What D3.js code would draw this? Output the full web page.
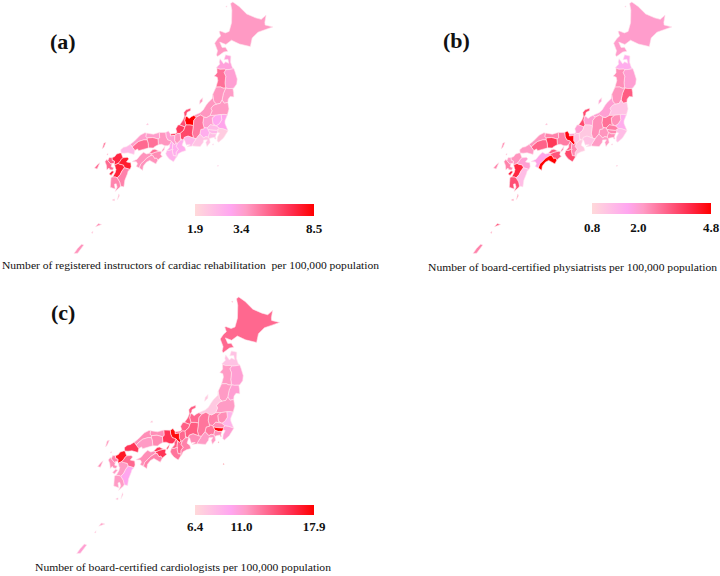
<!DOCTYPE html>
<html>
<head>
<meta charset="utf-8">
<script src="https://cdn.jsdelivr.net/npm/d3@7"></script>
<style>
  body { margin: 0; background: #fff; }
  text { font-family: "Liberation Serif", serif; fill: #111; }
</style>
</head>
<body>
<div id="chart"></div>
<script>
// prefecture names, same order as the value arrays
var prefNames = ["Hokkaido","Aomori","Iwate","Miyagi","Akita","Yamagata","Fukushima","Ibaraki","Tochigi","Gunma","Saitama","Chiba","Tokyo","Kanagawa","Niigata","Toyama","Ishikawa","Fukui","Yamanashi","Nagano","Gifu","Shizuoka","Aichi","Mie","Shiga","Kyoto","Osaka","Hyogo","Nara","Wakayama","Tottori","Shimane","Okayama","Hiroshima","Yamaguchi","Tokushima","Kagawa","Ehime","Kochi","Fukuoka","Saga","Nagasaki","Kumamoto","Oita","Miyazaki","Kagoshima","Okinawa"];

var instructors = [3.8,3.3,3.4,3.7,5.0,3.9,3.8,3.1,3.0,3.5,2.6,2.2,2.7,2.5,3.9,8.5,6.0,6.6,2.9,4.8,6.2,2.4,2.7,2.9,3.9,3.4,3.0,3.9,2.9,2.8,3.6,3.6,5.0,5.2,2.6,4.2,5.0,4.0,4.0,7.2,5.6,5.2,7.4,7.6,4.5,4.4,4.0];
var physiatrists = [2.1,1.6,2.0,3.2,2.4,2.3,1.2,1.6,2.4,2.9,2.7,1.3,2.5,2.4,2.0,2.0,3.5,2.0,2.3,2.4,1.1,2.2,1.2,1.1,1.2,4.7,3.0,2.7,2.5,3.5,2.6,2.3,3.8,3.1,2.2,3.3,3.2,1.8,4.8,2.3,2.2,2.6,4.1,2.0,1.3,3.4,2.6];
var cardiologists = [13.5,8.0,11.0,11.0,11.5,11.5,11.5,9.0,12.0,12.5,12.0,11.0,17.9,12.0,7.5,13.5,14.0,13.8,13.0,13.0,14.0,11.5,12.0,12.5,13.5,17.5,14.0,15.5,13.5,13.0,12.0,12.0,12.2,11.5,15.5,15.5,15.5,12.0,12.5,17.0,12.5,12.0,11.5,13.5,10.0,11.5,11.0];

// legend ticks: lowest, middle, highest
var ticksA = [1.9, 3.4, 8.5];
var ticksB = [0.8, 2.0, 4.8];
var ticksC = [6.4, 11.0, 17.9];

// colour ramp of the legend
var rampStops = [0, 0.3, 0.43, 0.62, 0.82, 1];
var rampColors = ["#ffd9da", "#ffa6f0", "#ff9cc6", "#ff658c", "#ff2c4c", "#ff0000"];

// outlines as lon,lat (same order as prefNames, islands as extra rings)
var prefOutlines = [
  ["140.1,41.42 140.75,41.75 141.18,41.8 140.95,42.1 140.6,42.1 140.38,42.52 141,42.32 141.6,42.62 142.4,42.3 143.5,42.05 143.75,42.7 144.4,43.1 145.2,43.25 146,43.4 145.2,43.6 145.2,43.8 145.4,44.34 144.85,44.05 144.27,44.2 143.35,44.55 142.6,45.15 141.95,45.52 141.7,45.4 141.8,44.9 141.7,43.95 141.4,43.3 141,43.2 140.5,43.35 140.35,43.33 140.5,42.98 140.2,42.8 139.85,42.45 140.12,41.87 140,41.55", "141.17,45.17 141.3,45.15 141.27,45.25"],
  ["139.95,40.6 140.3,40.85 140.25,41 140.35,41.25 140.7,40.85 140.9,41 141.2,40.88 141.15,41.18 140.75,41.17 140.93,41.53 141.46,41.42 141.4,40.95 141.55,40.55 141.7,40.45 141.2,40.4 140.9,40.4 140.75,40.45 140.3,40.45 140,40.55"],
  ["141.7,40.45 141.8,40.2 141.98,39.65 141.9,39.27 141.6,38.98 141.5,38.95 141.1,38.95 140.8,39 140.75,39.4 140.85,39.9 140.7,40.2 140.9,40.4 141.2,40.4"],
  ["141.5,38.95 141.55,38.65 141.55,38.3 141.2,38.35 141,38.15 140.95,37.9 140.6,37.85 140.4,38.1 140.55,38.6 140.8,39 141.1,38.95"],
  ["140,40.55 140.3,40.45 140.75,40.45 140.9,40.4 140.7,40.2 140.85,39.9 140.75,39.4 140.8,39 140.55,39 140.3,39.1 139.85,39.1 140.05,39.6 140,39.85 139.7,39.95 139.85,40.05 140,40.2"],
  ["139.85,39.1 140.3,39.1 140.55,39 140.8,39 140.55,38.6 140.4,38.1 140.2,37.85 139.85,37.8 139.6,38 139.5,38.55"],
  ["140.95,37.9 141.03,37.4 140.85,36.95 140.55,37 140.25,37 139.7,36.95 139.2,36.95 139.4,37.3 139.3,37.5 139.6,37.75 139.85,37.8 140.2,37.85 140.4,38.1 140.6,37.85"],
  ["140.55,37 140.85,36.95 140.6,36.5 140.6,36.3 140.85,35.75 140.4,35.9 140.05,35.95 139.75,36.15 140.05,36.3 140.3,36.6 140.25,37"],
  ["139.7,36.95 140.25,37 140.3,36.6 140.05,36.3 139.75,36.15 139.45,36.3 139.4,36.75"],
  ["139.2,36.95 139.7,36.95 139.4,36.75 139.45,36.3 139.75,36.15 139.2,36.25 138.9,36 138.6,36.05 138.5,36.4 138.6,36.85 138.85,36.8"],
  ["138.9,36 139.2,36.25 139.75,36.15 140.05,35.95 139.9,35.85 139.75,35.8 139.2,35.85 138.95,35.9"],
  ["139.9,35.85 140.05,35.95 140.4,35.9 140.85,35.75 140.4,35.2 139.95,34.9 139.8,35 139.85,35.3 140.05,35.6 139.85,35.65"],
  ["138.95,35.9 139.2,35.85 139.75,35.8 139.9,35.85 139.85,35.65 139.75,35.55 139.4,35.55 139.1,35.65", "139.35,34.7 139.45,34.7 139.42,34.8", "139.75,33.08 139.87,33.1 139.8,33.17"],
  ["139.75,35.55 139.65,35.3 139.7,35.15 139.6,35.15 139.55,35.28 139.15,35.22 139.1,35.15 139,35.3 139,35.4 139.1,35.65 139.4,35.55"],
  ["139.5,38.55 139.45,38.25 139.05,37.95 138.85,37.75 138.55,37.38 138.25,37.18 137.85,37.05 137.65,36.97 137.9,36.85 138.3,37 138.6,36.85 138.85,36.8 139.2,36.95 139.4,37.3 139.3,37.5 139.6,37.75 139.85,37.8 139.6,38", "138.2,37.82 138.5,38.05 138.52,38.32 138.25,38.1"],
  ["136.85,36.9 137,36.9 137.2,36.75 137.45,36.9 137.65,36.97 137.9,36.85 137.65,36.6 137.6,36.2 137.3,36.25 136.9,36.25 136.78,36.6"],
  ["136.3,36.25 136.6,36.6 136.75,36.9 136.7,37.2 136.9,37.4 137.35,37.53 137.35,37.35 137,37.2 136.98,37.05 136.85,36.9 136.78,36.6 136.9,36.25 136.8,36.1"],
  ["136.05,35.7 135.95,35.95 136.15,36.25 136.3,36.25 136.8,36.1 136.7,35.85 136.35,35.6 136.1,35.6 135.85,35.45 135.45,35.4 135.45,35.55 135.95,35.6"],
  ["138.95,35.9 139.1,35.65 139,35.4 139,35.3 138.75,35.35 138.55,35.25 138.2,35.55 138.3,35.9 138.6,35.95 138.6,36.05 138.9,36"],
  ["137.9,36.85 138.3,37 138.6,36.85 138.5,36.4 138.6,36.05 138.6,35.95 138.3,35.9 138.2,35.55 137.85,35.2 137.6,35.25 137.5,35.6 137.6,36.2 137.65,36.6"],
  ["136.7,35.15 136.55,35.1 136.4,35.25 136.35,35.6 136.7,35.85 136.8,36.1 136.9,36.25 137.3,36.25 137.6,36.2 137.5,35.6 137.6,35.25 137.1,35.4 136.75,35.3"],
  ["139.1,35.15 139.15,34.9 138.85,34.6 138.75,34.9 138.9,35.1 138.55,35.1 138.5,34.9 138.22,34.6 137.5,34.65 137.5,34.75 137.85,35.2 138.2,35.55 138.55,35.25 138.75,35.35 139,35.3"],
  ["137.5,34.65 137,34.6 137.3,34.75 137.05,34.75 136.95,34.7 136.85,34.9 136.8,35.05 136.7,35.15 136.75,35.3 137.1,35.4 137.6,35.25 137.85,35.2 137.5,34.75"],
  ["136.7,35.15 136.65,34.95 136.55,34.7 136.8,34.55 136.9,34.3 136.5,34.2 136.2,34.05 136.1,33.85 136,33.75 136,33.9 136,34.15 136.2,34.4 136,34.6 136.1,34.85 136.4,35.1 136.55,35.1"],
  ["136.4,35.1 136.4,35.25 136.35,35.6 136.1,35.6 135.85,35.45 135.85,35.05 136,34.85 136.1,34.85"],
  ["135.25,35.78 135.45,35.55 135.45,35.4 135.85,35.45 135.85,35.05 136,34.85 135.85,34.75 135.7,34.85 135.55,35 135.4,35.05 135.2,35.1 135.05,35.35 135,35.65"],
  ["135.55,35 135.7,34.85 135.65,34.45 135.7,34.4 135.4,34.3 135.15,34.3 135.4,34.55 135.4,34.75"],
  ["134.4,35.65 135,35.65 135.05,35.35 135.2,35.1 135.4,35.05 135.55,35 135.4,34.75 135.2,34.65 134.95,34.65 134.65,34.75 134.35,34.72 134.3,35.15 134.45,35.25", "134.97,34.62 134.9,34.35 134.75,34.18 134.7,34.3"],
  ["135.85,34.75 136,34.85 136.1,34.85 136,34.6 136.2,34.4 136,34.15 136,33.9 135.75,33.9 135.65,34.25 135.7,34.4 135.65,34.45 135.7,34.85"],
  ["135.15,34.3 135.4,34.3 135.7,34.4 135.65,34.25 135.75,33.9 136,33.9 136,33.75 135.77,33.44 135.38,33.65 135.15,33.88 135.05,34.05"],
  ["133.2,35.57 133.85,35.5 134.4,35.65 134.45,35.25 134.3,35.15 133.8,35.25 133.3,35.2 133.15,35.3"],
  ["131.75,34.65 132.1,34.9 132.65,35.4 133.05,35.58 133.2,35.57 133.15,35.3 133.3,35.2 133.3,35.05 133,35.05 132.5,34.9 132.1,34.6 131.95,34.45", "133.15,36.2 133.35,36.2 133.3,36.32"],
  ["134.35,34.72 134,34.55 133.9,34.45 133.45,34.45 133.4,34.8 133.3,35.05 133.3,35.2 133.8,35.25 134.3,35.15"],
  ["133.45,34.45 133.2,34.38 132.55,34.2 132.45,34.33 132.2,34.2 131.95,34.45 132.1,34.6 132.5,34.9 133,35.05 133.3,35.05 133.4,34.8"],
  ["132.2,34.2 132.15,33.9 131.6,34 131.25,33.95 130.95,33.95 130.9,34.2 131.15,34.4 131.4,34.45 131.75,34.65 131.95,34.45"],
  ["134.45,34.22 134.65,34.2 134.6,33.95 134.75,33.85 134.4,33.6 134.35,33.55 134.2,33.7 134.05,33.65 133.85,33.9 133.65,33.85 133.75,34.02 134.1,34.15"],
  ["134.45,34.22 134.05,34.37 133.85,34.33 133.6,34.1 133.55,34.05 133.75,34.02 134.1,34.15"],
  ["133.55,34.05 133.3,33.98 133,34.1 132.7,33.85 132.45,33.55 132,33.35 132.4,33.35 132.5,33.2 132.4,33 132.7,32.9 132.8,33.2 133.1,33.45 133.3,33.65 133.65,33.85 133.75,34.02"],
  ["134.35,33.55 134.18,33.25 133.6,33.5 133.3,33.35 133.05,33.05 133,32.72 132.7,32.9 132.8,33.2 133.1,33.45 133.3,33.65 133.65,33.85 133.85,33.9 134.05,33.65 134.2,33.7"],
  ["130.97,33.95 131.15,33.6 131,33.45 130.9,33.3 130.75,33.15 130.45,33 130.4,33.15 130.4,33.3 130.2,33.35 130.15,33.55 130.4,33.65 130.55,33.85 130.85,33.95"],
  ["130.4,33.15 130.4,33.3 130.2,33.35 130.15,33.55 129.9,33.55 129.8,33.3 130.1,33.05 130.2,33.1"],
  ["129.8,33.3 129.7,33.4 129.55,33.2 129.7,32.95 129.78,32.58 129.95,32.75 130.05,32.63 130.3,32.62 130.38,32.8 130.15,32.85 130.2,33.1 130.1,33.05", "128.65,32.65 128.9,32.6 129.1,33.1 128.9,32.95", "129.2,34.15 129.35,34.3 129.5,34.68 129.3,34.6", "129.67,33.73 129.78,33.73 129.75,33.85"],
  ["130.45,33 130.75,33.15 130.9,33.1 131.25,33.05 131.35,32.85 131.15,32.6 131,32.3 130.75,32.05 130.6,32.1 130.35,32.1 130.55,32.45 130.6,32.7 130.55,32.75", "130,32.3 130.25,32.55 130.45,32.5 130.2,32.2"],
  ["131.15,33.6 131.55,33.65 131.7,33.55 131.5,33.3 131.9,33.25 131.95,32.95 131.85,32.75 131.35,32.85 131.25,33.05 130.9,33.1 130.75,33.15 130.9,33.3 131,33.45"],
  ["131.85,32.75 131.7,32.6 131.65,32.4 131.45,31.9 131.4,31.4 131.1,31.45 131,31.75 130.75,32.05 131,32.3 131.15,32.6 131.35,32.85"],
  ["130.35,32.1 130.6,32.1 130.75,32.05 131,31.75 131.1,31.45 131.05,31.35 130.65,31 130.8,31.35 130.7,31.6 130.55,31.55 130.65,31.2 130.4,31.25 130.2,31.3 130.2,31.65 130.2,32.05", "130.45,30.35 130.65,30.3 130.65,30.45", "130.9,30.4 131.05,30.7 131,30.85", "129.2,28.25 129.7,28.45 129.4,28.5", "128.9,27.75 129,27.75 129,27.9"],
  ["127.6,26.1 127.9,26.15 128.35,26.8 128.15,26.85 127.85,26.5"]
];

var width = 720, height = 576;

var svg = d3.select("#chart")
  .append("svg")
    .attr("width", width)
    .attr("height", height);

// the source is a soft raster, so the maps get a little blur
svg.append("defs").append("filter")
    .attr("id", "soft")
  .append("feGaussianBlur")
    .attr("stdDeviation", 0.45);

var ramp = d3.scaleLinear()
  .domain(rampStops)
  .range(rampColors)
  .interpolate(d3.interpolateRgb);

function drawPanel(opt) {
  // where the three ticks sit along the legend bar, as a share of its length
  var share = d3.scaleLinear().domain(opt.ticks).range([0, 0.39, 1]).clamp(true);

  // meridians lean together towards Hokkaido in the source, so a conic fits
  var projection = d3.geoConicConformal()
    .parallels([33, 44])
    .rotate([-137, 0])
    .center([0, 38])
    .scale(opt.scale)
    .translate(opt.origin);

  var line = d3.line();
  var map = svg.append("g").attr("filter", "url(#soft)");

  map.selectAll("path")
    .data(prefNames)
    .enter()
    .append("path")
      .attr("d", function(d, i) {
        return prefOutlines[i].map(function(ring) {
          var pts = ring.split(" ").map(function(p) { return projection(p.split(",").map(Number)); });
          return line(pts) + "Z";
        }).join("");
      })
      .attr("fill", function(d, i) { return ramp(share(opt.values[i])); })
      .attr("stroke", "#ffe6ee")
      .attr("stroke-width", 0.6)
      .attr("stroke-linejoin", "round");

  // legend bar
  var gradId = "grad" + opt.label;
  var grad = svg.select("defs").append("linearGradient").attr("id", gradId);
  rampStops.forEach(function(s, i) {
    grad.append("stop").attr("offset", s).attr("stop-color", rampColors[i]);
  });
  svg.append("rect")
    .attr("x", opt.bar[0])
    .attr("y", opt.bar[1])
    .attr("width", opt.bar[2])
    .attr("height", opt.bar[3])
    .attr("fill", "url(#" + gradId + ")");

  var barX = d3.scaleLinear().domain(opt.ticks).range([opt.bar[0], opt.bar[0] + opt.bar[2] * 0.39, opt.bar[0] + opt.bar[2]]);
  svg.selectAll("text.t" + opt.label)
    .data(opt.ticks)
    .enter()
    .append("text")
      .attr("class", "t" + opt.label)
      .attr("x", function(d) { return barX(d); })
      .attr("y", opt.tickY)
      .attr("text-anchor", "middle")
      .attr("font-weight", "bold")
      .attr("font-size", 13)
      .text(function(d) { return d.toFixed(1); });

  svg.append("text")
    .attr("x", opt.tag[0])
    .attr("y", opt.tag[1])
    .attr("font-weight", "bold")
    .attr("font-size", 22)
    .text("(" + opt.label + ")");

  svg.append("text")
    .attr("x", opt.caption[0])
    .attr("y", opt.caption[1])
    .attr("font-size", 11.2)
    .attr("textLength", opt.caption[2])
    .attr("lengthAdjust", "spacingAndGlyphs")
    .style("white-space", "pre")
    .text(opt.captionText);
}

drawPanel({
  label: "a", values: instructors, ticks: ticksA,
  scale: 755, origin: [187, 102],
  bar: [195, 204, 119, 12], tickY: 233, tag: [50, 49],
  caption: [2, 269, 377],
  captionText: "Number of registered instructors of cardiac rehabilitation  per 100,000 population"
});
drawPanel({
  label: "b", values: physiatrists, ticks: ticksB,
  scale: 755, origin: [586, 102],
  bar: [592, 203, 119, 11], tickY: 232, tag: [443, 48],
  caption: [428, 271, 289],
  captionText: "Number of board-certified physiatrists per 100,000 population"
});
drawPanel({
  label: "c", values: cardiologists, ticks: ticksC,
  scale: 770, origin: [192, 399],
  bar: [195, 505, 119, 10], tickY: 531, tag: [51, 320],
  caption: [35, 571, 296],
  captionText: "Number of board-certified cardiologists per 100,000 population"
});
</script>
</body>
</html>
